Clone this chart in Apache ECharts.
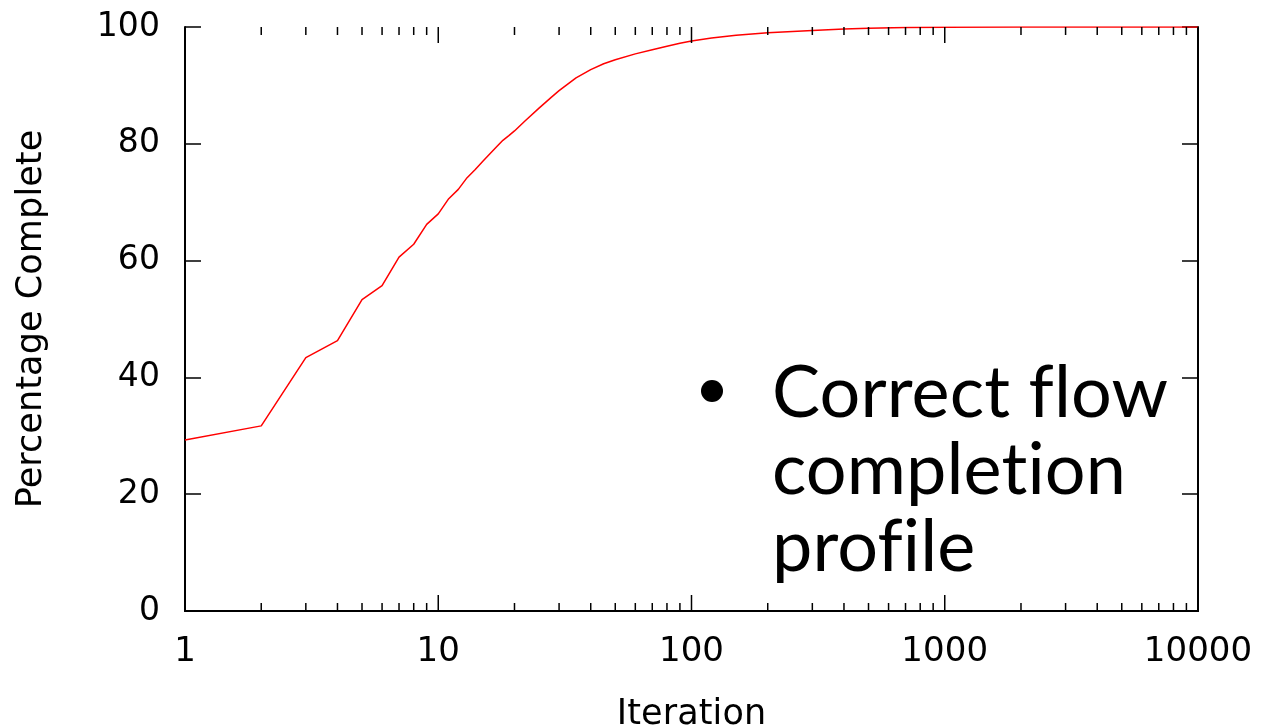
<!DOCTYPE html>
<html>
<head>
<meta charset="utf-8">
<title>Percentage Complete vs Iteration</title>
<script src="https://cdn.jsdelivr.net/npm/echarts@6/dist/echarts.min.js"></script>
<style>
  html, body { margin: 0; padding: 0; background: #fff; }
  #chart { width: 1266px; height: 728px; }
</style>
</head>
<body>
<div id="chart"></div>
<script>
// data
var iterations = [1, 2, 3, 4, 5, 6, 7, 8, 9, 10, 11, 12, 13, 14, 15, 16, 17, 18, 19, 20,
  22, 25, 28, 30, 35, 40, 45, 50, 60, 70, 80, 90, 100, 120, 150, 200, 300, 400, 500, 700,
  1000, 2000, 5000, 10000];
var percentComplete = [29.3, 31.7, 43.4, 46.3, 53.3, 55.7, 60.6, 62.8, 66.2, 68.0, 70.6, 72.2, 74.2, 75.6, 77.0, 78.3, 79.5, 80.6, 81.4, 82.2,
  83.9, 86.1, 88.0, 89.1, 91.3, 92.7, 93.7, 94.4, 95.4, 96.1, 96.7, 97.2, 97.6, 98.1, 98.6, 99.0, 99.4, 99.65, 99.78, 99.9,
  99.96, 100, 100, 100];

// x ticks, gnuplot style: long at each decade, short at 2..9
var majorTicks = [1, 10, 100, 1000, 10000];
var minorTicks = [2, 3, 4, 5, 6, 7, 8, 9, 20, 30, 40, 50, 60, 70, 80, 90,
  200, 300, 400, 500, 600, 700, 800, 900, 2000, 3000, 4000, 5000, 6000, 7000, 8000, 9000];

var xMin = 1, xMax = 10000;
var yMin = 0, yMax = 100, yStep = 20;

var bulletText = 'Correct flow\ncompletion\nprofile';

var lineData = iterations.map(function (v, i) { return [v, percentComplete[i]]; });

var chart = echarts.init(document.getElementById('chart'));

var tickStyle = { color: '#000', width: 1.5 };
var frameLine = { show: true, lineStyle: { color: '#000', width: 2 } };

// ticks on the bottom and top border pointing into the plot
function xTickSeries(values, len) {
  return {
    type: 'custom',
    silent: true,
    clip: false,
    z: 5,
    xAxisIndex: 0,
    yAxisIndex: 0,
    data: values.map(function (v) { return [v, yMin]; }),
    renderItem: function (params, api) {
      var b = api.coord([api.value(0), yMin]);
      var t = api.coord([api.value(0), yMax]);
      return {
        type: 'group',
        children: [{
          type: 'line',
          shape: { x1: b[0], y1: b[1], x2: b[0], y2: b[1] - len },
          style: { stroke: '#000', lineWidth: 1.5 }
        }, {
          type: 'line',
          shape: { x1: t[0], y1: t[1], x2: t[0], y2: t[1] + len },
          style: { stroke: '#000', lineWidth: 1.5 }
        }]
      };
    }
  };
}

var option = {
  backgroundColor: '#fff',
  animation: false,
  grid: { left: 185, right: 68, top: 27, bottom: 117, containLabel: false, outerBoundsMode: 'none' },
  xAxis: [{
    type: 'log',
    logBase: 10,
    min: xMin,
    max: xMax,
    position: 'bottom',
    name: 'Iteration',
    nameLocation: 'middle',
    nameGap: 86,
    nameTextStyle: { fontFamily: 'DejaVu Sans', fontSize: 35, color: '#000' },
    axisLine: frameLine,
    axisTick: { show: false },
    axisLabel: {
      fontFamily: 'DejaVu Sans', fontSize: 34, color: '#000', margin: 24,
      formatter: function (v) { return String(v); }
    },
    splitLine: { show: false }
  }, {
    type: 'log',
    logBase: 10,
    min: xMin,
    max: xMax,
    position: 'top',
    axisLine: frameLine,
    axisTick: { show: false },
    axisLabel: { show: false },
    splitLine: { show: false }
  }],
  yAxis: [{
    type: 'value',
    min: yMin,
    max: yMax,
    interval: yStep,
    position: 'left',
    name: 'Percentage Complete',
    nameLocation: 'middle',
    nameGap: 136,
    nameTextStyle: { fontFamily: 'DejaVu Sans', fontSize: 35, color: '#000' },
    axisLine: frameLine,
    axisTick: { show: true, inside: true, length: 16, lineStyle: tickStyle },
    axisLabel: { fontFamily: 'DejaVu Sans', fontSize: 33, color: '#000', margin: 25 },
    splitLine: { show: false }
  }, {
    type: 'value',
    min: yMin,
    max: yMax,
    interval: yStep,
    position: 'right',
    axisLine: frameLine,
    axisTick: { show: true, inside: true, length: 16, lineStyle: tickStyle },
    axisLabel: { show: false },
    splitLine: { show: false }
  }],
  graphic: [{
    type: 'circle',
    shape: { cx: 712, cy: 391, r: 11 },
    style: { fill: '#000' }
  }, {
    type: 'text',
    left: 772,
    top: 355,
    style: {
      text: bulletText,
      font: '72px Lato',
      lineHeight: 77,
      fill: '#000'
    }
  }],
  series: [
    xTickSeries(majorTicks, 16),
    xTickSeries(minorTicks, 8),
    {
      type: 'line',
      name: 'Percentage Complete',
      data: lineData,
      showSymbol: false,
      lineStyle: { color: '#ff0000', width: 1.5 },
      itemStyle: { color: '#ff0000' }
    }
  ]
};

chart.setOption(option);

// the slide text has no fl / ti ligatures: the canvas exists now, switch them off and paint again
document.querySelectorAll('#chart canvas').forEach(function (c) {
  var ctx = c.getContext('2d');
  ctx.textRendering = 'optimizeSpeed';
  ctx.letterSpacing = '0.1px';
});
chart.setOption(option, true);
</script>
</body>
</html>
